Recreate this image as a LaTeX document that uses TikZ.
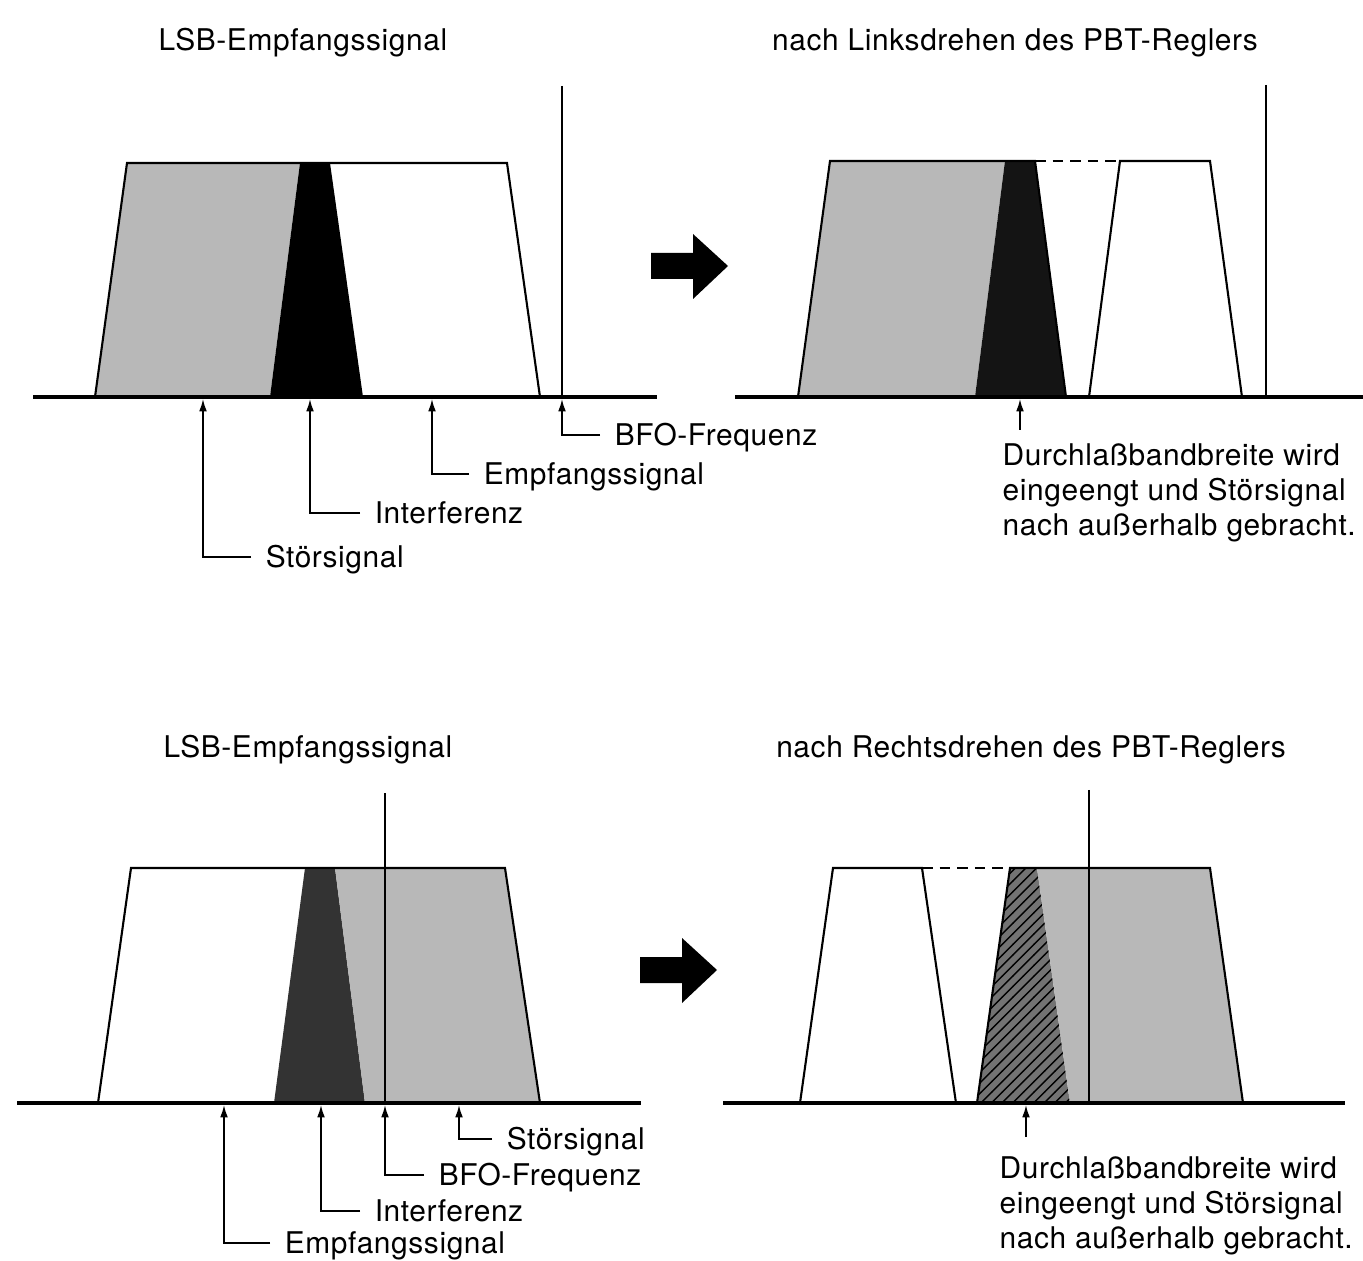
\documentclass[tikz,border=0pt]{standalone}
\usepackage{fontspec}
\setmainfont{TeX Gyre Heros}[LetterSpace=2.0]
\usetikzlibrary{arrows.meta,patterns}
\begin{document}
\begin{tikzpicture}[x=0.01cm, y=-0.01cm, font=\fontsize{8.5}{10}\selectfont,
    lbl/.style={anchor=west, inner sep=4pt, text height=6pt, text depth=0pt},
    note/.style={anchor=north west, align=left, inner sep=2pt},
    axis/.style={line width=0.9pt},
    band/.style={line width=0.6pt},
    ptr/.style={line width=0.45pt, -{Latex[length=3.5pt,width=2.2pt]}},
    grey/.style={fill=black!28},
    gap/.style={line width=0.6pt, dash pattern=on 3pt off 2pt}]
\clip (0,0) rectangle (1363,1261);
\fill[white] (0,0) rectangle (1363,1261);

\node (t1) at (303,43) {LSB-Empfangssignal};
\fill[grey] (95,397) -- (127,163) -- (300,163) -- (270,397) -- cycle;
\fill (270,397) -- (300,163) -- (330,163) -- (363,397) -- cycle;
\draw[band] (95,397) -- (127,163) -- (507,163) -- (540,397);
\draw[band] (562,86) -- (562,397);
\draw[axis] (33,397) -- (657,397);
\coordinate (a1) at (203,399);
\coordinate (a2) at (310,399);
\coordinate (a3) at (432,399);
\coordinate (a4) at (562,399);
\node[lbl] (st1) at (251,557) {Störsignal};
\node[lbl] (if1) at (360,513) {Interferenz};
\node[lbl] (em1) at (469,474) {Empfangssignal};
\node[lbl] (bf1) at (600,435) {BFO-Frequenz};
\draw[ptr] (st1.west) -| (a1);
\draw[ptr] (if1.west) -| (a2);
\draw[ptr] (em1.west) -| (a3);
\draw[ptr] (bf1.west) -| (a4);

\fill (651,253) -- (693,253) -- (693,234) -- (728,266) -- (693,299) -- (693,279) -- (651,279) -- cycle;

\node (t2) at (1015,43) {nach Linksdrehen des PBT-Reglers};
\fill[grey] (798,397) -- (830,161) -- (1005,161) -- (975,397) -- cycle;
\fill[black!92] (975,397) -- (1005,161) -- (1035,161) -- (1066,397) -- cycle;
\draw[band] (798,397) -- (830,161) -- (1035,161) -- (1066,397);
\draw[gap] (1035,161) -- (1117,161);
\draw[band] (1089,397) -- (1120,161) -- (1210,161) -- (1242,397);
\draw[band] (1266,85) -- (1266,397);
\draw[axis] (735,397) -- (1363,397);
\coordinate (b1) at (1020,399);
\coordinate (b0) at (1020,430);
\node[note] (dn1) at (995,436) {Durchlaßbandbreite wird\\eingeengt und Störsignal\\nach außerhalb gebracht.};
\draw[ptr] (b0) -- (b1);

\node (t3) at (308,750) {LSB-Empfangssignal};
\fill[black!80] (274,1103) -- (305,868) -- (335,868) -- (365,1103) -- cycle;
\fill[grey] (365,1103) -- (335,868) -- (505,868) -- (540,1103) -- cycle;
\draw[band] (98,1103) -- (131,868) -- (505,868) -- (540,1103);
\draw[band] (385,793) -- (385,1103);
\draw[axis] (17,1103) -- (641,1103);
\coordinate (c1) at (224,1105);
\coordinate (c2) at (321,1105);
\coordinate (c3) at (385,1105);
\coordinate (c4) at (459,1105);
\node[lbl] (em2) at (270,1243) {Empfangssignal};
\node[lbl] (if2) at (360,1211) {Interferenz};
\node[lbl] (bf2) at (424,1175) {BFO-Frequenz};
\node[lbl] (st2) at (492,1139) {Störsignal};
\draw[ptr] (em2.west) -| (c1);
\draw[ptr] (if2.west) -| (c2);
\draw[ptr] (bf2.west) -| (c3);
\draw[ptr] (st2.west) -| (c4);

\fill (640,957) -- (682,957) -- (682,938) -- (717,970) -- (682,1003) -- (682,983) -- (640,983) -- cycle;

\node (t4) at (1031,750) {nach Rechtsdrehen des PBT-Reglers};
\draw[band] (800,1103) -- (833,868) -- (922,868) -- (956,1103);
\draw[gap] (922,868) -- (1010,868);
\fill[black!55] (977,1103) -- (1010,868) -- (1037,868) -- (1070,1103) -- cycle;
\fill[pattern=north east lines] (977,1103) -- (1010,868) -- (1037,868) -- (1070,1103) -- cycle;
\fill[grey] (1070,1103) -- (1037,868) -- (1210,868) -- (1243,1103) -- cycle;
\draw[band] (977,1103) -- (1010,868) -- (1210,868) -- (1243,1103);
\draw[band] (1089,790) -- (1089,1103);
\draw[axis] (723,1103) -- (1345,1103);
\coordinate (d1) at (1026,1105);
\coordinate (d0) at (1026,1137);
\node[note] (dn2) at (992,1149) {Durchlaßbandbreite wird\\eingeengt und Störsignal\\nach außerhalb gebracht.};
\draw[ptr] (d0) -- (d1);
\end{tikzpicture}
\end{document}
